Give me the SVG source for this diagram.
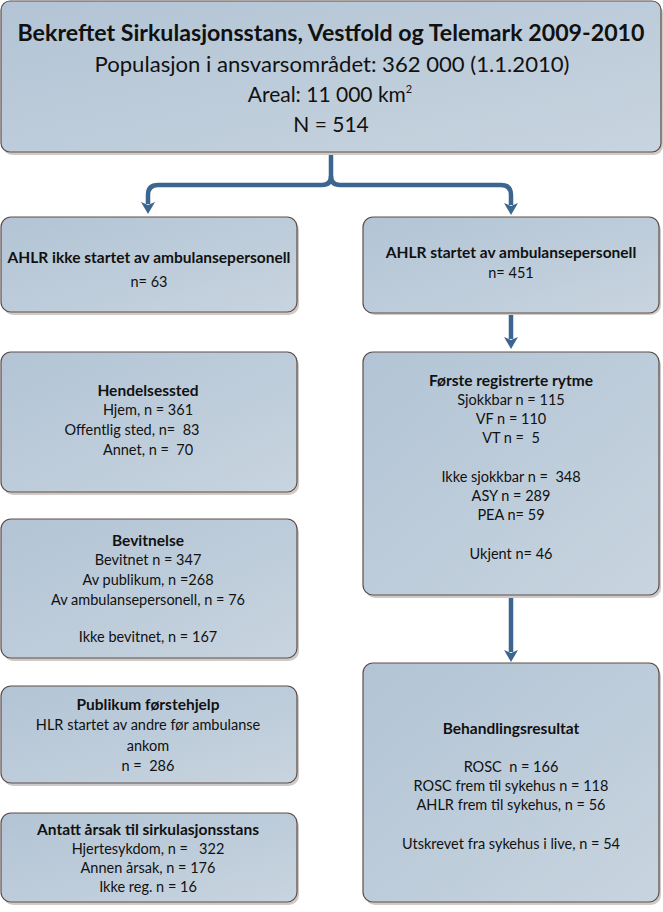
<svg xmlns="http://www.w3.org/2000/svg" width="663" height="912" viewBox="0 0 663 912">
<defs>
<linearGradient id="boxfill" x1="0" y1="0" x2="1" y2="1">
<stop offset="0" stop-color="#b2c4d5"/>
<stop offset="1" stop-color="#c8d4df"/>
</linearGradient>
<marker id="arrow" viewBox="0 0 12 14" refX="2" refY="7" markerWidth="12" markerHeight="14" markerUnits="userSpaceOnUse" orient="auto">
<path d="M0,0 L12,7 L0,14 L3,7 z" fill="#3a6690"/>
</marker>
</defs>
<style>
.box{fill:url(#boxfill);stroke:#5e4e49;stroke-width:1.2}
.shadow{fill:#cfcac8}
.conn{fill:none;stroke:#3a6690;stroke-width:4.5;stroke-linejoin:round}
text{font-family:Lato,"Open Sans","Liberation Sans",sans-serif;fill:#111;text-anchor:middle;white-space:pre}
.t{font-size:22px;font-weight:bold}
.s{font-size:21px}
.b{font-size:15.5px;font-weight:bold}
.n{font-size:14.5px}
</style>
<rect width="663" height="912" fill="#ffffff"/>

<g id="connectors">
<path class="conn" d="M331,152 V176 Q331,185 322,185 H158 Q148,185 148,195 V204" marker-end="url(#arrow)"/>
<path class="conn" d="M331,176 Q331,185 340,185 H501 Q511,185 511,195 V205" marker-end="url(#arrow)"/>
<path class="conn" d="M511,313 V339" marker-end="url(#arrow)"/>
<path class="conn" d="M511,596 V652" marker-end="url(#arrow)"/>
</g>

<g id="top">
<rect class="shadow" x="3" y="4" width="660" height="151" rx="9"/>
<rect class="box" x="1" y="1" width="660" height="151" rx="9"/>
<text class="t" x="331" y="41" textLength="627" lengthAdjust="spacingAndGlyphs">Bekreftet Sirkulasjonsstans, Vestfold og Telemark 2009-2010</text>
<text class="s" x="332" y="72" textLength="475" lengthAdjust="spacingAndGlyphs">Populasjon i ansvarsområdet: 362 000 (1.1.2010)</text>
<text class="s" x="330" y="102">Areal: 11 000 km<tspan font-size="11" dy="-9">2</tspan></text>
<text class="s" x="331" y="132">N = 514</text>
</g>

<g id="ahlr-ikke">
<rect class="shadow" x="3" y="220" width="296" height="95" rx="10"/>
<rect class="box" x="1" y="217" width="296" height="95" rx="10"/>
<text class="b" x="149" y="263">AHLR ikke startet av ambulansepersonell</text>
<text class="n" x="149" y="287">n= 63</text>
</g>

<g id="ahlr-startet">
<rect class="shadow" x="365" y="220" width="296" height="95" rx="10"/>
<rect class="box" x="363" y="217" width="296" height="96" rx="10"/>
<text class="b" x="511" y="258">AHLR startet av ambulansepersonell</text>
<text class="n" x="511" y="278">n= 451</text>
</g>

<g id="hendelsessted">
<rect class="shadow" x="3" y="355" width="296" height="140" rx="10"/>
<rect class="box" x="1" y="352" width="296" height="140" rx="10"/>
<text class="b" x="148" y="396">Hendelsessted</text>
<text class="n" x="148" y="415">Hjem, n = 361</text>
<text class="n" x="132" y="435">Offentlig sted, n=  83</text>
<text class="n" x="148" y="455">Annet, n =  70</text>
</g>

<g id="bevitnelse">
<rect class="shadow" x="3" y="522" width="296" height="139" rx="10"/>
<rect class="box" x="1" y="519" width="296" height="139" rx="10"/>
<text class="b" x="148" y="546">Bevitnelse</text>
<text class="n" x="148" y="565">Bevitnet n = 347</text>
<text class="n" x="148" y="585">Av publikum, n =268</text>
<text class="n" x="148" y="605">Av ambulansepersonell, n = 76</text>
<text class="n" x="148" y="642">Ikke bevitnet, n = 167</text>
</g>

<g id="publikum">
<rect class="shadow" x="3" y="689" width="296" height="97" rx="10"/>
<rect class="box" x="1" y="686" width="296" height="97" rx="10"/>
<text class="b" x="148" y="710">Publikum førstehjelp</text>
<text class="n" x="148" y="730">HLR startet av andre før ambulanse</text>
<text class="n" x="148" y="751">ankom</text>
<text class="n" x="148" y="771">n =  286</text>
</g>

<g id="aarsak">
<rect class="shadow" x="3" y="816" width="296" height="89" rx="10"/>
<rect class="box" x="1" y="813" width="296" height="89" rx="10"/>
<text class="b" x="148" y="835">Antatt årsak til sirkulasjonsstans</text>
<text class="n" x="148" y="854">Hjertesykdom, n =   322</text>
<text class="n" x="148" y="873">Annen årsak, n = 176</text>
<text class="n" x="148" y="892">Ikke reg. n = 16</text>
</g>

<g id="rytme">
<rect class="shadow" x="365" y="355" width="296" height="243" rx="10"/>
<rect class="box" x="363" y="352" width="296" height="243" rx="10"/>
<text class="b" x="511" y="386">Første registrerte rytme</text>
<text class="n" x="511" y="405">Sjokkbar n = 115</text>
<text class="n" x="511" y="424">VF n = 110</text>
<text class="n" x="511" y="443">VT n =  5</text>
<text class="n" x="511" y="482">Ikke sjokkbar n =  348</text>
<text class="n" x="511" y="501">ASY n = 289</text>
<text class="n" x="511" y="520">PEA n= 59</text>
<text class="n" x="511" y="559">Ukjent n= 46</text>
</g>

<g id="behandling">
<rect class="shadow" x="365" y="666" width="296" height="239" rx="10"/>
<rect class="box" x="363" y="663" width="296" height="239" rx="10"/>
<text class="b" x="511" y="734">Behandlingsresultat</text>
<text class="n" x="511" y="772">ROSC  n = 166</text>
<text class="n" x="511" y="791">ROSC frem til sykehus n = 118</text>
<text class="n" x="511" y="810">AHLR frem til sykehus, n = 56</text>
<text class="n" x="511" y="849">Utskrevet fra sykehus i live, n = 54</text>
</g>
</svg>
